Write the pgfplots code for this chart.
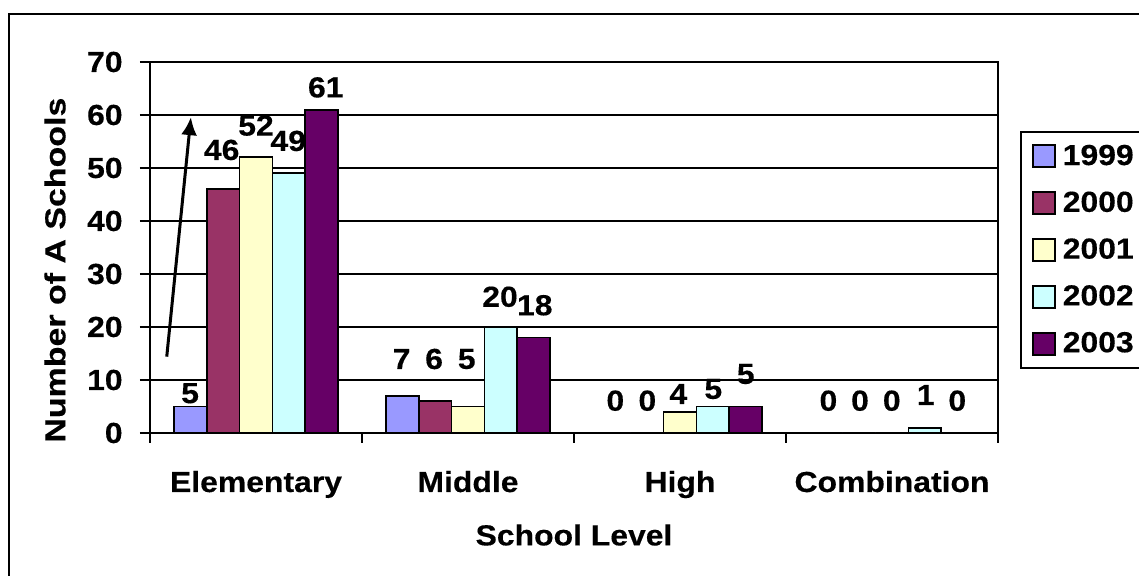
\documentclass[border=0pt]{standalone}
\usepackage{fontspec}
\setmainfont{Liberation Sans}[FakeStretch=1.1, BoldFeatures={FakeBold=0.35}]
\newfontfamily\ylabfont{Liberation Sans}[FakeStretch=1.17, BoldFeatures={FakeBold=0.35}]
\usepackage{pgfplots}
\pgfplotsset{compat=1.18}
\usetikzlibrary{arrows.meta}

\definecolor{cA}{HTML}{9999FF}
\definecolor{cB}{HTML}{993366}
\definecolor{cC}{HTML}{FFFFCC}
\definecolor{cD}{HTML}{CCFFFF}
\definecolor{cE}{HTML}{660066}

\newcommand\chartfont{\fontsize{14.5}{17}\selectfont\bfseries}

\tikzset{lbl/.style={font=\chartfont, inner sep=0pt, anchor=center}}
\pgfplotsset{
  sq legend/.style={legend image code/.code={%
    \draw[##1, line width=0.9pt, draw=black] (0pt,-5.5pt) rectangle (11pt,5.5pt);}},
  yrbar/.style={ybar, bar width=0.155, draw=black, line width=0.9pt},
}

\begin{document}
\begin{tikzpicture}
\begin{axis}[
  scale only axis, width=424pt, height=185.5pt,
  at={(75pt,71.5pt)}, anchor=south west,
  xmin=-0.5, xmax=3.5, ymin=0, ymax=70,
  ytick={0,10,...,70},
  xtick={0,1,2,3},
  xticklabels={Elementary,Middle,High,Combination},
  xtick style={draw=none},
  extra x ticks={-0.5,0.5,1.5,2.5,3.5},
  extra x tick labels={},
  extra x tick style={grid=none, xtick style={draw=black}},
  xtick pos=bottom, ytick pos=left,
  tick align=outside, major tick length=5pt,
  every tick/.style={black, line width=0.9pt},
  ymajorgrids, major grid style={black, line width=0.9pt},
  axis line style={line width=0.9pt},
  /pgf/number format/assume math mode=true,
  tick label style={font=\chartfont},
  yticklabel style={anchor=east, inner sep=0pt, xshift=-8.5pt},
  xticklabel style={anchor=base, inner sep=0pt, yshift=-24.5pt},
  xlabel={School Level},
  xlabel style={at={(axis description cs:0.5,-0.275)}, anchor=center, font=\chartfont},
  ylabel={Number of A Schools},
  ylabel style={at={(axis description cs:-0.112,0.439)}, anchor=center,
                font=\ylabfont\fontsize{14.5}{17}\selectfont\bfseries},
  legend style={at={(axis description cs:1.026,0.814)}, anchor=north west,
                draw=black, line width=0.9pt, fill=white,
                inner xsep=5.5pt, inner ysep=6.3pt, row sep=11.5pt,
                cells={anchor=west}, nodes={inner xsep=3.5pt, inner ysep=0pt},
                font=\chartfont},
  clip=false,
]
\addplot[yrbar, bar shift=-0.31,  fill=cA, sq legend] coordinates {(0,5) (1,7) (2,0) (3,0)};
\addlegendentry{1999\hspace{8pt}}
\addplot[yrbar, bar shift=-0.155, fill=cB, sq legend] coordinates {(0,46) (1,6) (2,0) (3,0)};
\addlegendentry{2000\hspace{8pt}}
\addplot[yrbar, bar shift=0,      fill=cC, sq legend] coordinates {(0,52) (1,5) (2,4) (3,0)};
\addlegendentry{2001\hspace{8pt}}
\addplot[yrbar, bar shift=0.155,  fill=cD, sq legend] coordinates {(0,49) (1,20) (2,5) (3,1)};
\addlegendentry{2002\hspace{8pt}}
\addplot[yrbar, bar shift=0.31,   fill=cE, sq legend] coordinates {(0,61) (1,18) (2,5) (3,0)};
\addlegendentry{2003\hspace{8pt}}

% value labels
\node[lbl] at (axis cs:-0.311,7.49) {5};
\node[lbl] at (axis cs:-0.162,53.4) {46};
\node[lbl] at (axis cs:0,58.0) {52};
\node[lbl] at (axis cs:0.152,55.1) {49};
\node[lbl] at (axis cs:0.329,65.2) {61};
\node[lbl] at (axis cs:0.687,13.96) {7};
\node[lbl] at (axis cs:0.840,13.96) {6};
\node[lbl] at (axis cs:0.994,13.96) {5};
\node[lbl] at (axis cs:1.151,25.7) {20};
\node[lbl] at (axis cs:1.315,24.1) {18};
\node[lbl] at (axis cs:1.695,6.09) {0};
\node[lbl] at (axis cs:1.846,6.09) {0};
\node[lbl] at (axis cs:1.992,7.36) {4};
\node[lbl] at (axis cs:2.157,8.30) {5};
\node[lbl] at (axis cs:2.310,11.13) {5};
\node[lbl] at (axis cs:2.700,6.09) {0};
\node[lbl] at (axis cs:2.849,6.09) {0};
\node[lbl] at (axis cs:2.999,6.09) {0};
\node[lbl] at (axis cs:3.159,7.17) {1};
\node[lbl] at (axis cs:3.308,6.09) {0};

% trend arrow
\draw[line width=1.5pt, -{Latex[length=9pt, width=8pt]}]
  (axis cs:-0.421,14.4) -- (axis cs:-0.307,59.6);
\end{axis}

% chart frame
\draw[line width=1.1pt] (4.5pt,-30pt) -- (4.5pt,281pt) -- (620pt,281pt);
\pgfresetboundingbox
\path (0pt,0pt) rectangle (569.5pt,288pt);
\end{tikzpicture}
\end{document}
